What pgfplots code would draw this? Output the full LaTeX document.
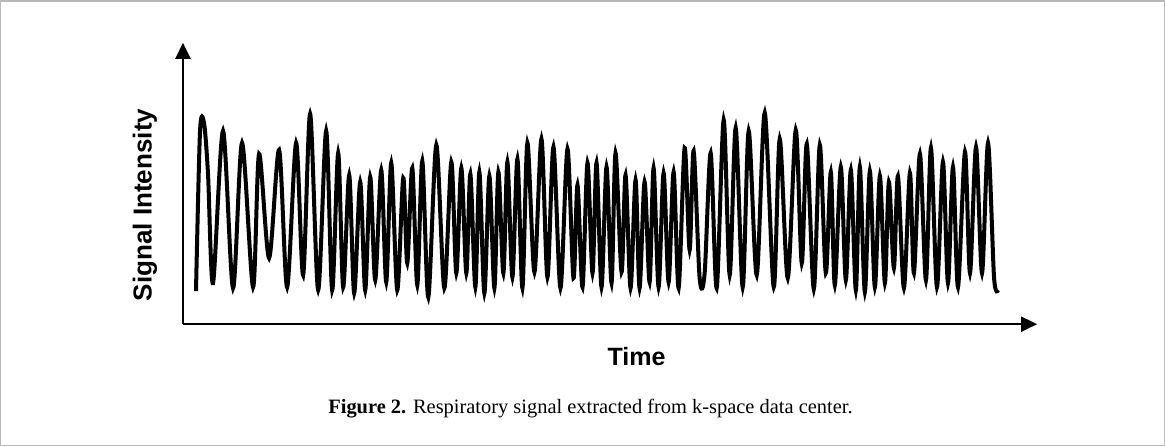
\documentclass[border=0pt]{standalone}
\usepackage{pgfplots}
\pgfplotsset{compat=1.18}
\usepackage{fontspec}
\setmainfont{Liberation Serif}
\newfontfamily\arial{Liberation Sans}
\usetikzlibrary{arrows.meta}

% signal: x = pixel column, y = height above the time axis
\pgfplotstableread{
x y
196 33
200 192
204 201
208 150
213 41
223 193
233 36
242 181
253 37
259 170
269 66
279 174
287 37
296 181
303 49
310 210
318 34
326 193
332 34
338 171
343 37
349 149
354 31
360 142
365 34
370 147
375 44
381 154
386 42
391 161
397 34
403 146
407 61
412 156
417 39
422 163
428 27
436 179
444 36
451 162
456 51
461 156
466 51
470 150
475 37
479 152
484 31
489 148
494 36
498 152
503 51
507 162
512 47
517 165
522 36
527 181
534 52
541 185
547 47
553 177
560 36
567 175
573 46
577 139
582 37
587 161
592 51
596 161
601 37
606 157
611 41
615 171
621 52
625 149
630 36
635 144
639 36
644 142
649 42
653 156
658 37
663 151
668 42
673 152
678 36
684 176
689 74
693 173
699 46
704 51
710 171
716 36
723 204
729 49
735 196
742 37
748 193
756 49
764 211
773 37
779 185
787 46
795 194
801 61
806 180
813 35
819 179
825 51
830 152
834 39
840 157
845 44
850 154
855 34
859 157
864 32
869 153
874 37
879 148
884 41
888 142
893 56
897 148
903 36
909 151
913 51
919 170
925 44
930 176
936 37
942 162
947 41
952 157
957 37
964 172
969 51
975 177
981 51
987 181
993 47
997 34
}\signal

\begin{document}
\begin{tikzpicture}
\begin{axis}[
    scale only axis,
    width=426.5pt, height=140.5pt,
    xmin=183, xmax=1036,
    ymin=0, ymax=281,
    axis lines=left,
    axis line style={line width=1.2pt, -{Triangle[length=8pt,width=7.5pt]}},
    xtick=\empty, ytick=\empty,
    clip=false,
]
\addplot[black, line width=2pt, smooth, tension=0.5] table[x=x, y=y] {\signal};

\node[font=\arial\bfseries\fontsize{13}{15}\selectfont, rotate=90]
    at (axis cs:145,119) {Signal Intensity};
\node[font=\arial\bfseries\fontsize{12.5}{14}\selectfont]
    at (axis cs:636,-32) {Time};
\node[font=\fontsize{10.2}{12}\selectfont, anchor=base]
    at (axis cs:590,-89) {\textbf{Figure 2.} Respiratory signal extracted from k-space data center.};
\draw[gray!55, line width=0.75pt] (axis cs:1,323) rectangle (axis cs:1163,-121);
\end{axis}
\end{tikzpicture}
\end{document}
